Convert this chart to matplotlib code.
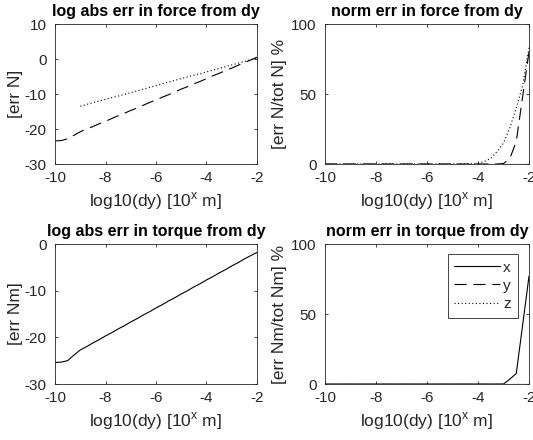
import matplotlib.pyplot as plt
import numpy as np

plt.rcParams['font.family'] = ['Liberation Sans', 'DejaVu Sans']
plt.rcParams['axes.unicode_minus'] = False

# log10(dy) grid, 0.25 steps from -10 to -2
dy = np.arange(-10, -1.99, 0.25)
nan = np.nan

# log abs err in force (x is zero -> not drawn)
f_log_y = [-23.4, -23.3, -22.8, -21.8,
           -20.8, -20.0, -19.3, -18.5, -17.8, -17.0, -16.2, -15.5, -14.7, -14.0,
           -13.2, -12.4, -11.7, -10.9, -10.2, -9.4, -8.6, -7.9, -7.1, -6.4,
           -5.6, -4.8, -4.1, -3.3, -2.6, -1.8, -1.0, -0.3, 0.5]
f_log_z = [nan, nan, nan, nan,
           -13.5, -13.0, -12.5, -12.0, -11.5, -11.0, -10.6, -10.1, -9.6, -9.1,
           -8.6, -8.1, -7.6, -7.1, -6.6, -6.1, -5.6, -5.1, -4.6, -4.2,
           -3.7, -3.2, -2.7, -2.2, -1.7, -1.2, -0.7, -0.2, 0.3]

# norm err in force, %
f_norm_x = [0.0] * 33
f_norm_y = [0, 0, 0, 0, 0, 0, 0, 0, 0, 0, 0, 0, 0, 0, 0, 0, 0, 0, 0, 0, 0, 0, 0, 0,
            0, 0, 0, 0, 0.3, 4, 16, 48, 80]
f_norm_z = [0, 0, 0, 0, 0, 0, 0, 0, 0, 0, 0, 0, 0, 0, 0, 0, 0, 0, 0, 0, 0, 0, 0, 0.2,
            0.6, 1.8, 4, 9, 15, 26, 40, 56, 83]

# log abs err in torque (y, z are zero -> not drawn)
t_log_x = [-25.4, -25.3, -25.0, -23.8,
           -22.7, -22.0, -21.2, -20.5, -19.7, -19.0, -18.2, -17.5, -16.7, -16.0,
           -15.2, -14.5, -13.7, -13.0, -12.2, -11.5, -10.7, -10.0, -9.2, -8.5,
           -7.7, -7.0, -6.2, -5.5, -4.7, -4.0, -3.2, -2.5, -1.8]

# norm err in torque, %
t_norm_x = [0, 0, 0, 0, 0, 0, 0, 0, 0, 0, 0, 0, 0, 0, 0, 0, 0, 0, 0, 0, 0, 0, 0, 0,
            0, 0, 0, 0, 0, 3.5, 7.5, 42, 77]
t_norm_y = [0.0] * 33
t_norm_z = [0.0] * 33

xt = [-10, -8, -6, -4, -2]
xlab = 'log10(dy) [10$^{\\mathregular{x}}$ m]'

dark = '#262626'
lw = 0.8
dash = (0, (11, 6))
dot = (0, (1, 2.2))

fig = plt.figure(figsize=(5.33, 4.40), dpi=100)
W, H = 533, 440


def box(x0, x1, y0, y1):
    return [x0 / W, 1 - y1 / H, (x1 - x0) / W, (y1 - y0) / H]


ax1 = fig.add_axes(box(55, 257, 24, 164))
ax2 = fig.add_axes(box(325, 529, 24, 164))
ax3 = fig.add_axes(box(55, 257, 244, 384))
ax4 = fig.add_axes(box(325, 529, 244, 384))

ax1.plot(dy, f_log_y, color='k', lw=lw, ls=dash)
ax1.plot(dy, f_log_z, color='k', lw=lw, ls=dot)
ax1.set_ylim(-30, 10)
ax1.set_yticks([-30, -20, -10, 0, 10])
ax1.set_title('log abs err in force from dy')
ax1.set_ylabel('[err N]')

ax2.plot(dy, f_norm_x, color='k', lw=lw)
ax2.plot(dy, f_norm_y, color='k', lw=lw, ls=dash)
ax2.plot(dy, f_norm_z, color='k', lw=lw, ls=dot)
ax2.set_ylim(0, 100)
ax2.set_yticks([0, 50, 100])
ax2.set_title('norm err in force from dy')
ax2.set_ylabel('[err N/tot N] %')

ax3.plot(dy, t_log_x, color='k', lw=lw)
ax3.set_ylim(-30, 0)
ax3.set_yticks([-30, -20, -10, 0])
ax3.set_title('log abs err in torque from dy')
ax3.set_ylabel('[err Nm]')

ax4.plot(dy, t_norm_x, color='k', lw=lw, label='x')
ax4.plot(dy, t_norm_y, color='k', lw=lw, ls=dash, label='y')
ax4.plot(dy, t_norm_z, color='k', lw=lw, ls=dot, label='z')
ax4.set_ylim(0, 100)
ax4.set_yticks([0, 50, 100])
ax4.set_title('norm err in torque from dy')
ax4.set_ylabel('[err Nm/tot Nm] %')
leg = ax4.legend(loc='upper right', bbox_to_anchor=(0.945, 0.93), fontsize=11,
                 handlelength=3.0, handletextpad=0.2, labelspacing=0.27,
                 borderpad=0.45, fancybox=False, framealpha=1, borderaxespad=0)
leg.get_frame().set_edgecolor(dark)
leg.get_frame().set_linewidth(0.6)
for t in leg.get_texts():
    t.set_color(dark)

for ax in (ax1, ax2, ax3, ax4):
    ax.set_xlim(-10, -2)
    ax.set_xticks(xt)
    ax.set_xlabel(xlab, fontsize=12.5, color=dark, labelpad=4)
    ax.yaxis.label.set_fontsize(12.5)
    ax.yaxis.label.set_color(dark)
    ax.title.set_fontsize(11.5)
    ax.title.set_fontweight('bold')
    ax.tick_params(direction='in', length=2.5, width=0.6, colors=dark,
                   labelsize=11, top=True, right=True)
    ax.tick_params(axis='x', pad=5)
    ax.tick_params(axis='y', pad=6)
    for s in ax.spines.values():
        s.set_color(dark)
        s.set_linewidth(0.6)

# y labels sit a bit closer to the tick labels, as in the original
ax1.yaxis.set_label_coords(-0.158, 0.5)
ax3.yaxis.set_label_coords(-0.158, 0.5)
ax2.yaxis.set_label_coords(-0.185, 0.5)
ax4.yaxis.set_label_coords(-0.185, 0.5)

fig.savefig('out.png', dpi=100)
